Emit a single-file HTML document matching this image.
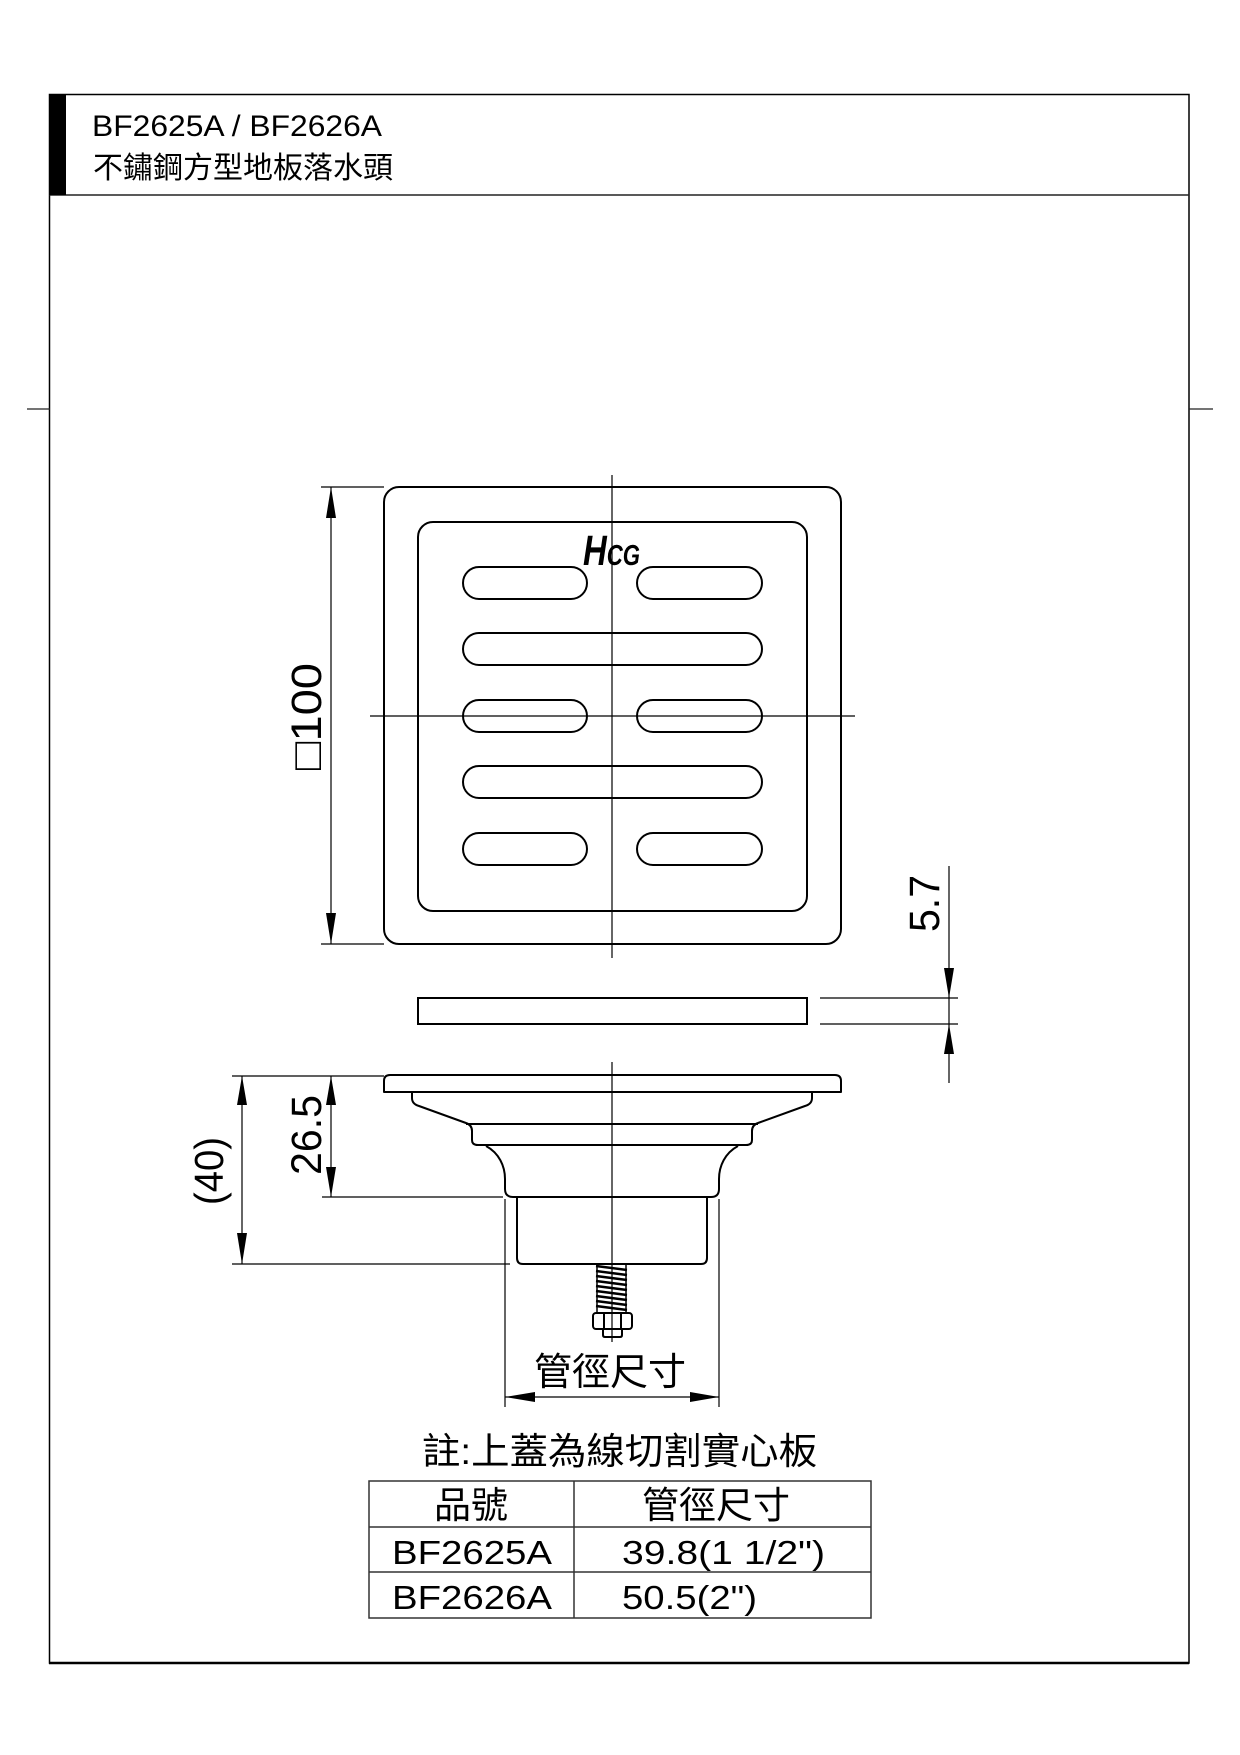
<!DOCTYPE html>
<html>
<head>
<meta charset="utf-8">
<style>
html,body{margin:0;padding:0;background:#fff;}
svg{display:block;}
.lat{font-family:"Liberation Sans","Noto Sans CJK TC",sans-serif;}
.cjk{font-family:"Liberation Sans","Noto Sans CJK TC",sans-serif;}
</style>
</head>
<body>
<svg width="1240" height="1755" viewBox="0 0 1240 1755" xmlns="http://www.w3.org/2000/svg">
  <rect x="0" y="0" width="1240" height="1755" fill="#fff"/>

  <!-- Frame -->
  <rect x="49.5" y="94.5" width="1139.5" height="1568.5" fill="none" stroke="#000" stroke-width="1.5"/>
  <line x1="49" y1="1663" x2="1189" y2="1663" stroke="#000" stroke-width="2.5"/>
  <line x1="49.5" y1="195" x2="1189" y2="195" stroke="#222" stroke-width="1.5"/>
  <rect x="49" y="94" width="17" height="101" fill="#000"/>
  <line x1="27" y1="409" x2="50" y2="409" stroke="#222" stroke-width="1.2"/>
  <line x1="1189" y1="409" x2="1213" y2="409" stroke="#222" stroke-width="1.2"/>

  <!-- Header text -->
  <text class="lat" x="92" y="136" font-size="30" textLength="290" lengthAdjust="spacingAndGlyphs">BF2625A / BF2626A</text>
  <text class="cjk" x="93" y="178" font-size="30">不鏽鋼方型地板落水頭</text>

  <!-- Top view: grate -->
  <g fill="none" stroke="#000" stroke-width="2">
    <rect x="384" y="487" width="457" height="457" rx="15"/>
    <rect x="418" y="522" width="389" height="389" rx="15"/>
    <rect x="463" y="567" width="124" height="32" rx="16"/>
    <rect x="637" y="567" width="125" height="32" rx="16"/>
    <rect x="463" y="633" width="299" height="32" rx="16"/>
    <rect x="463" y="700" width="124" height="32" rx="16"/>
    <rect x="637" y="700" width="125" height="32" rx="16"/>
    <rect x="463" y="766" width="299" height="32" rx="16"/>
    <rect x="463" y="833" width="124" height="32" rx="16"/>
    <rect x="637" y="833" width="125" height="32" rx="16"/>
  </g>
  <!-- HCG logo -->
  <text x="583" y="565" font-family="Liberation Sans, sans-serif" font-weight="bold" font-style="italic" textLength="57" lengthAdjust="spacingAndGlyphs"><tspan font-size="43">H</tspan><tspan font-size="29">CG</tspan></text>

  <!-- center lines -->
  <line x1="612" y1="475" x2="612" y2="958" stroke="#000" stroke-width="1.2"/>
  <line x1="370" y1="716" x2="855" y2="716" stroke="#000" stroke-width="1.2"/>

  <!-- dimension 100 -->
  <g stroke="#000" stroke-width="1.2">
    <line x1="321" y1="487" x2="384" y2="487"/>
    <line x1="321" y1="944" x2="384" y2="944"/>
    <line x1="331" y1="487" x2="331" y2="944"/>
  </g>
  <polygon points="331,487 326,518 336,518" fill="#000"/>
  <polygon points="331,944 326,913 336,913" fill="#000"/>
  <text class="lat" transform="translate(321,770) rotate(-90)" font-size="43" textLength="107" lengthAdjust="spacingAndGlyphs">□100</text>

  <!-- cover plate -->
  <rect x="418" y="998" width="389" height="26" fill="none" stroke="#000" stroke-width="2"/>

  <!-- dimension 5.7 -->
  <g stroke="#000" stroke-width="1.2">
    <line x1="820" y1="998" x2="958" y2="998"/>
    <line x1="820" y1="1024" x2="958" y2="1024"/>
    <line x1="949" y1="866" x2="949" y2="1083"/>
  </g>
  <polygon points="949,998 944,968 954,968" fill="#000"/>
  <polygon points="949,1024 944,1054 954,1054" fill="#000"/>
  <text class="lat" transform="translate(939,932) rotate(-90)" font-size="43" textLength="57" lengthAdjust="spacingAndGlyphs">5.7</text>

  <!-- Side view body -->
  <g fill="none" stroke="#000" stroke-width="2" stroke-linejoin="round">
    <path d="M384,1092 L384,1081 Q384,1075 390,1075 L835,1075 Q841,1075 841,1081 L841,1092 Z"/>
    <path d="M412,1092 L412,1098 Q412,1104 419,1106 L466,1123 Q472,1125 472,1131 L472,1140 Q472,1145 478,1145"/>
    <path d="M812,1092 L812,1098 Q812,1104 805,1106 L758,1123 Q752,1125 752,1131 L752,1140 Q752,1145 746,1145"/>
    <line x1="466" y1="1124" x2="758" y2="1124"/>
    <line x1="476" y1="1145" x2="748" y2="1145"/>
    <path d="M486,1146 C499,1153 505,1166 505,1179 L505,1189 Q505,1197 513,1197 L711,1197 Q719,1197 719,1189 L719,1179 C719,1166 725,1153 738,1146"/>
    <path d="M517,1197 L517,1258 Q517,1264 523,1264 L701,1264 Q707,1264 707,1258 L707,1197"/>
  </g>

  <!-- spring -->
  <g stroke="#000" stroke-width="2.4">
    <line x1="596" y1="1266" x2="627" y2="1270"/>
    <line x1="596" y1="1271" x2="627" y2="1275"/>
    <line x1="596" y1="1276" x2="627" y2="1280"/>
    <line x1="596" y1="1281" x2="627" y2="1285"/>
    <line x1="596" y1="1286" x2="627" y2="1290"/>
    <line x1="596" y1="1291" x2="627" y2="1295"/>
    <line x1="596" y1="1296" x2="627" y2="1300"/>
    <line x1="596" y1="1301" x2="627" y2="1305"/>
    <line x1="596" y1="1306" x2="627" y2="1310"/>
  </g>
  <g stroke="#000" stroke-width="1.5">
    <line x1="597" y1="1264" x2="597" y2="1312"/>
    <line x1="626" y1="1264" x2="626" y2="1312"/>
  </g>
  <!-- nut -->
  <g fill="none" stroke="#000" stroke-width="2">
    <rect x="593" y="1313" width="39" height="16" rx="3"/>
    <line x1="604" y1="1313" x2="604" y2="1329"/>
    <line x1="621" y1="1313" x2="621" y2="1329"/>
    <path d="M603,1329 L603,1335 Q603,1337 605,1337 L620,1337 Q622,1337 622,1335 L622,1329"/>
  </g>

  <!-- center line lower -->
  <line x1="612" y1="1062" x2="612" y2="1342" stroke="#000" stroke-width="1.2"/>

  <!-- dims 26.5 and (40) -->
  <g stroke="#000" stroke-width="1.2">
    <line x1="232" y1="1076" x2="384" y2="1076"/>
    <line x1="242" y1="1076" x2="242" y2="1264"/>
    <line x1="232" y1="1264" x2="510" y2="1264"/>
    <line x1="331" y1="1076" x2="331" y2="1197"/>
    <line x1="322" y1="1197" x2="503" y2="1197"/>
  </g>
  <polygon points="242,1076 237,1105 247,1105" fill="#000"/>
  <polygon points="242,1264 237,1233 247,1233" fill="#000"/>
  <polygon points="331,1076 326,1105 336,1105" fill="#000"/>
  <polygon points="331,1197 326,1167 336,1167" fill="#000"/>
  <text class="lat" transform="translate(321,1175) rotate(-90)" font-size="43" textLength="80" lengthAdjust="spacingAndGlyphs">26.5</text>
  <text class="lat" transform="translate(223,1205) rotate(-90)" font-size="41" textLength="68" lengthAdjust="spacingAndGlyphs">(40)</text>

  <!-- pipe size dim -->
  <g stroke="#000" stroke-width="1.2">
    <line x1="505" y1="1199" x2="505" y2="1407"/>
    <line x1="719" y1="1199" x2="719" y2="1407"/>
    <line x1="505" y1="1397" x2="719" y2="1397"/>
  </g>
  <polygon points="505,1397 535,1392 535,1402" fill="#000"/>
  <polygon points="719,1397 690,1392 690,1402" fill="#000"/>
  <text class="cjk" x="610" y="1385" font-size="38" text-anchor="middle">管徑尺寸</text>

  <!-- note -->
  <text class="cjk" x="422" y="1464" font-size="37" textLength="395" lengthAdjust="spacingAndGlyphs">註:上蓋為線切割實心板</text>

  <!-- table -->
  <g fill="none" stroke="#333" stroke-width="1.5">
    <rect x="369" y="1481" width="502" height="137"/>
    <line x1="369" y1="1527" x2="871" y2="1527"/>
    <line x1="369" y1="1572" x2="871" y2="1572"/>
    <line x1="574" y1="1481" x2="574" y2="1618"/>
  </g>
  <text class="cjk" x="471" y="1518" font-size="37" text-anchor="middle">品號</text>
  <text class="cjk" x="716" y="1518" font-size="37" text-anchor="middle">管徑尺寸</text>
  <text class="lat" x="392" y="1564" font-size="33" textLength="160" lengthAdjust="spacingAndGlyphs">BF2625A</text>
  <text class="lat" x="622" y="1564" font-size="33" textLength="203" lengthAdjust="spacingAndGlyphs">39.8(1 1/2")</text>
  <text class="lat" x="392" y="1609" font-size="33" textLength="160" lengthAdjust="spacingAndGlyphs">BF2626A</text>
  <text class="lat" x="622" y="1609" font-size="33" textLength="135" lengthAdjust="spacingAndGlyphs">50.5(2")</text>
</svg>
</body>
</html>
